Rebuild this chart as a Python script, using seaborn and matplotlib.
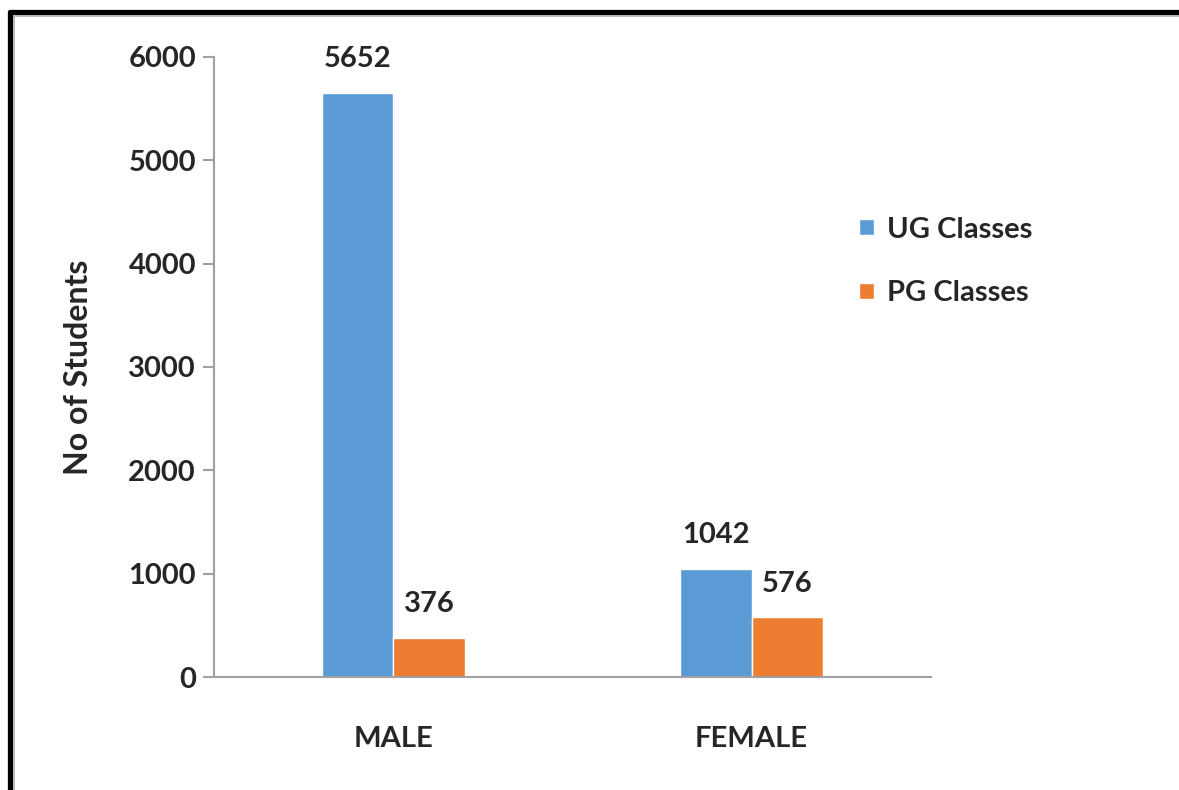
import pandas as pd
import matplotlib.pyplot as plt
from matplotlib.lines import Line2D
import seaborn as sns

# Data
genders = ["MALE", "FEMALE"]
classes = ["UG Classes", "PG Classes"]
ug_counts = [5652, 1042]
pg_counts = [376, 576]
colors = ["#5B9BD5", "#ED7D31"]

df = pd.DataFrame({
    "Gender": genders * 2,
    "Class": [classes[0]] * 2 + [classes[1]] * 2,
    "Students": ug_counts + pg_counts,
})

sns.set_style("white")
plt.rcParams["font.family"] = ["Lato", "DejaVu Sans"]
plt.rcParams["font.weight"] = "bold"

fs = 21

fig = plt.figure(figsize=(11.79, 7.9), dpi=100)
ax = fig.add_axes([0.1815, 0.143, 0.608, 0.785])

sns.barplot(data=df, x="Gender", y="Students", hue="Class", order=genders,
            hue_order=classes, palette=colors, width=0.4, saturation=1,
            ax=ax, legend=True)

for cont in ax.containers:
    ax.bar_label(cont, padding=15, fontsize=fs, fontweight="bold")

ax.set_ylim(0, 6000)
ax.set_xlim(-0.5, 1.5)
ax.set_yticks(range(0, 6001, 1000))
ax.set_xlabel("")
ax.set_ylabel("No of Students", fontsize=23, fontweight="bold")
ax.yaxis.set_label_coords(-0.169, 0.5)

sns.despine(ax=ax)
for s in ["left", "bottom"]:
    ax.spines[s].set_color("#A0A0A0")
    ax.spines[s].set_linewidth(1.5)
ax.tick_params(axis="y", length=8, width=1.5, color="#A0A0A0", labelsize=fs, pad=5, left=True)
ax.tick_params(axis="x", length=0, labelsize=fs, pad=35)
for lab in ax.get_xticklabels() + ax.get_yticklabels():
    lab.set_fontweight("bold")

ax.legend(loc="center left", bbox_to_anchor=(0.729, 0.669), bbox_transform=fig.transFigure,
          frameon=False, fontsize=fs, handlelength=0.5, handleheight=0.5,
          handletextpad=0.45, labelspacing=1.3, borderpad=0, borderaxespad=0)

# outer frame (top and left visible)
fig.add_artist(Line2D([10 / 1179, 1.01], [1 - 12 / 790] * 2, color="black", lw=3.8, transform=fig.transFigure))
fig.add_artist(Line2D([10 / 1179] * 2, [-0.01, 1 - 12 / 790], color="black", lw=3.8, transform=fig.transFigure))
fig.add_artist(Line2D([14 / 1179, 1.01], [1 - 16 / 790] * 2, color="#B0B0B0", lw=1.2, transform=fig.transFigure))
fig.add_artist(Line2D([14 / 1179] * 2, [-0.01, 1 - 16 / 790], color="#B0B0B0", lw=1.2, transform=fig.transFigure))

fig.savefig("out.png", dpi=100)
